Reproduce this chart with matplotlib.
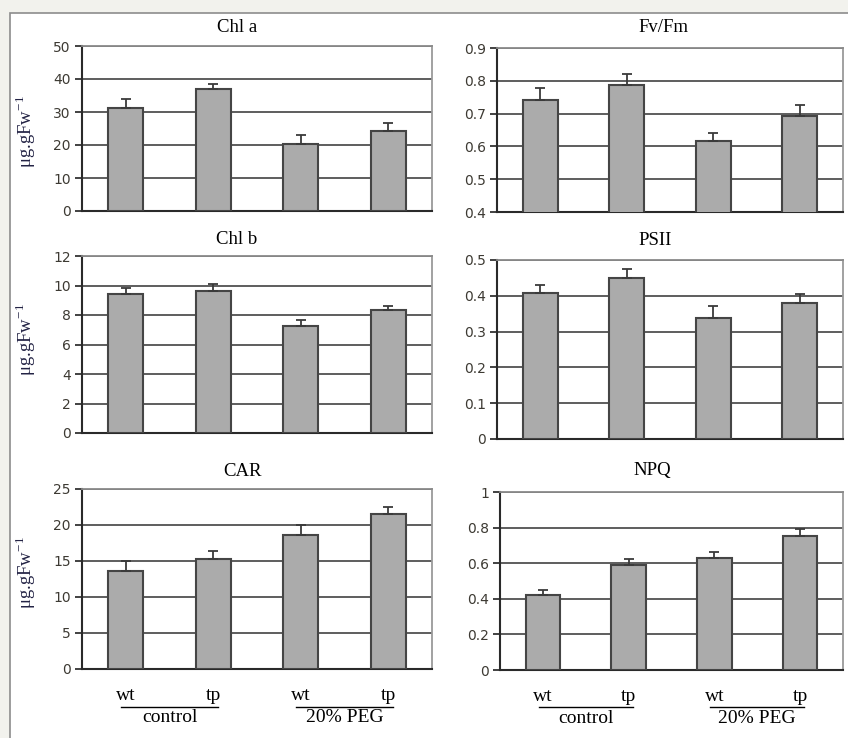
import numpy as np
import matplotlib
matplotlib.use("Agg")
import matplotlib.pyplot as plt
from matplotlib.patches import Rectangle
from matplotlib.lines import Line2D

# data
genotypes = ["wt", "tp", "wt", "tp"]
groups = ["control", "20% PEG"]

chla = [31.3, 37.1, 20.2, 24.2]
chla_err = [2.5, 1.3, 2.7, 2.5]
fvfm = [0.742, 0.786, 0.617, 0.693]
fvfm_err = [0.035, 0.034, 0.024, 0.033]
chlb = [9.44, 9.63, 7.25, 8.31]
chlb_err = [0.41, 0.45, 0.43, 0.29]
psii = [0.409, 0.451, 0.339, 0.381]
psii_err = [0.020, 0.024, 0.032, 0.025]
car = [13.6, 15.3, 18.6, 21.5]
car_err = [1.4, 1.1, 1.4, 1.0]
npq = [0.422, 0.590, 0.632, 0.755]
npq_err = [0.028, 0.031, 0.030, 0.036]

W, H = 848, 738
SERIF = "Liberation Serif"


def px(x, y):
    return x / W, 1 - y / H


def box(l, t, r, b):
    return [l / W, 1 - b / H, (r - l) / W, (b - t) / H]


panels = [
    # title, values, errors, ylim, ticks, tick fmt, axes box, title pos, ylabel pos
    ("Chl a", chla, chla_err, (0, 50), np.arange(0, 51, 10), "{:g}",
     box(82, 46, 432, 211), (237, 28), (26, 132)),
    ("Fv/Fm", fvfm, fvfm_err, (0.4, 0.9), np.arange(0.4, 0.91, 0.1), "{:.1f}",
     box(497, 48, 843, 212), (663, 28), None),
    ("Chl b", chlb, chlb_err, (0, 12), np.arange(0, 13, 2), "{:g}",
     box(82, 256, 432, 433), (237, 240), (26, 340)),
    ("PSII", psii, psii_err, (0, 0.5), np.arange(0, 0.51, 0.1), "{:g}",
     box(497, 260, 843, 439), (655, 241), None),
    ("CAR", car, car_err, (0, 25), np.arange(0, 26, 5), "{:g}",
     box(82, 489, 432, 669), (243, 472), (26, 573)),
    ("NPQ", npq, npq_err, (0, 1), np.arange(0, 1.01, 0.2), "{:g}",
     box(500, 492, 843, 670), (652, 470), None),
]

fig = plt.figure(figsize=(W / 100, H / 100), dpi=100, facecolor="#f2f2ed")

# white page with thin frame, behind everything
fig.patches.append(Rectangle(px(10, 740), 850 / W, 727 / H, transform=fig.transFigure,
                             facecolor="white", edgecolor="#8c8c8c", lw=1.2, zorder=-10))

x = np.arange(len(genotypes))

for i, (title, vals, errs, ylim, ticks, fmt, rect, tpos, ypos) in enumerate(panels):
    ax = fig.add_axes(rect)
    ax.bar(x, vals, width=0.4, color="#ababab", edgecolor="#454545", lw=1.5, zorder=3)
    ax.errorbar(x, vals, yerr=[np.zeros(len(vals)), errs], fmt="none",
                ecolor="#3a3a3a", elinewidth=1.3, capsize=3.5, capthick=1.3, zorder=4)
    ax.set_xlim(-0.5, len(x) - 0.5)
    ax.set_ylim(*ylim)
    ax.set_yticks(ticks)
    ax.set_yticklabels([fmt.format(round(t, 2)) for t in ticks],
                       fontsize=10, color="#3d3a33", family="DejaVu Sans")
    ax.set_xticks([])
    ax.yaxis.grid(True, color="#505050", lw=1.3, zorder=0)
    ax.set_axisbelow(True)
    ax.tick_params(axis="y", length=5, width=1.3, color="#333333", pad=3)
    for s in ["left", "bottom"]:
        ax.spines[s].set_color("#2a2a2a")
        ax.spines[s].set_linewidth(1.5)
    ax.spines["top"].set_color("#8a8a8a")
    ax.spines["top"].set_linewidth(1.3)
    ax.spines["right"].set_color("#9a9a9a")
    ax.spines["right"].set_linewidth(1.3)

    fig.text(*px(*tpos), title, ha="center", va="center", fontsize=13.5, family=SERIF)
    if ypos is not None:
        fig.text(*px(*ypos), r"μg.gFw$^{\mathregular{-1}}$", rotation=90, ha="center",
                 va="center", fontsize=13.5, family=SERIF, color="#222244")

    # category labels under the bottom row
    if i >= 4:
        for xi, g in zip(x, genotypes):
            ax.annotate(g, (xi, 0), xycoords=("data", "axes fraction"),
                        xytext=(0, -19), textcoords="offset points",
                        ha="center", va="center", fontsize=14, family=SERIF)
        for k, grp in enumerate(groups):
            a, b = 2 * k - 0.05, 2 * k + 1.05
            ax.add_line(Line2D([a, b], [-0.21, -0.21], color="black", lw=1.0,
                               transform=ax.get_xaxis_transform(), clip_on=False))
            ax.annotate(grp, ((a + b) / 2, 0), xycoords=("data", "axes fraction"),
                        xytext=(0, -35), textcoords="offset points",
                        ha="center", va="center", fontsize=14, family=SERIF)

fig.savefig("out.png", dpi=100, facecolor=fig.get_facecolor())
